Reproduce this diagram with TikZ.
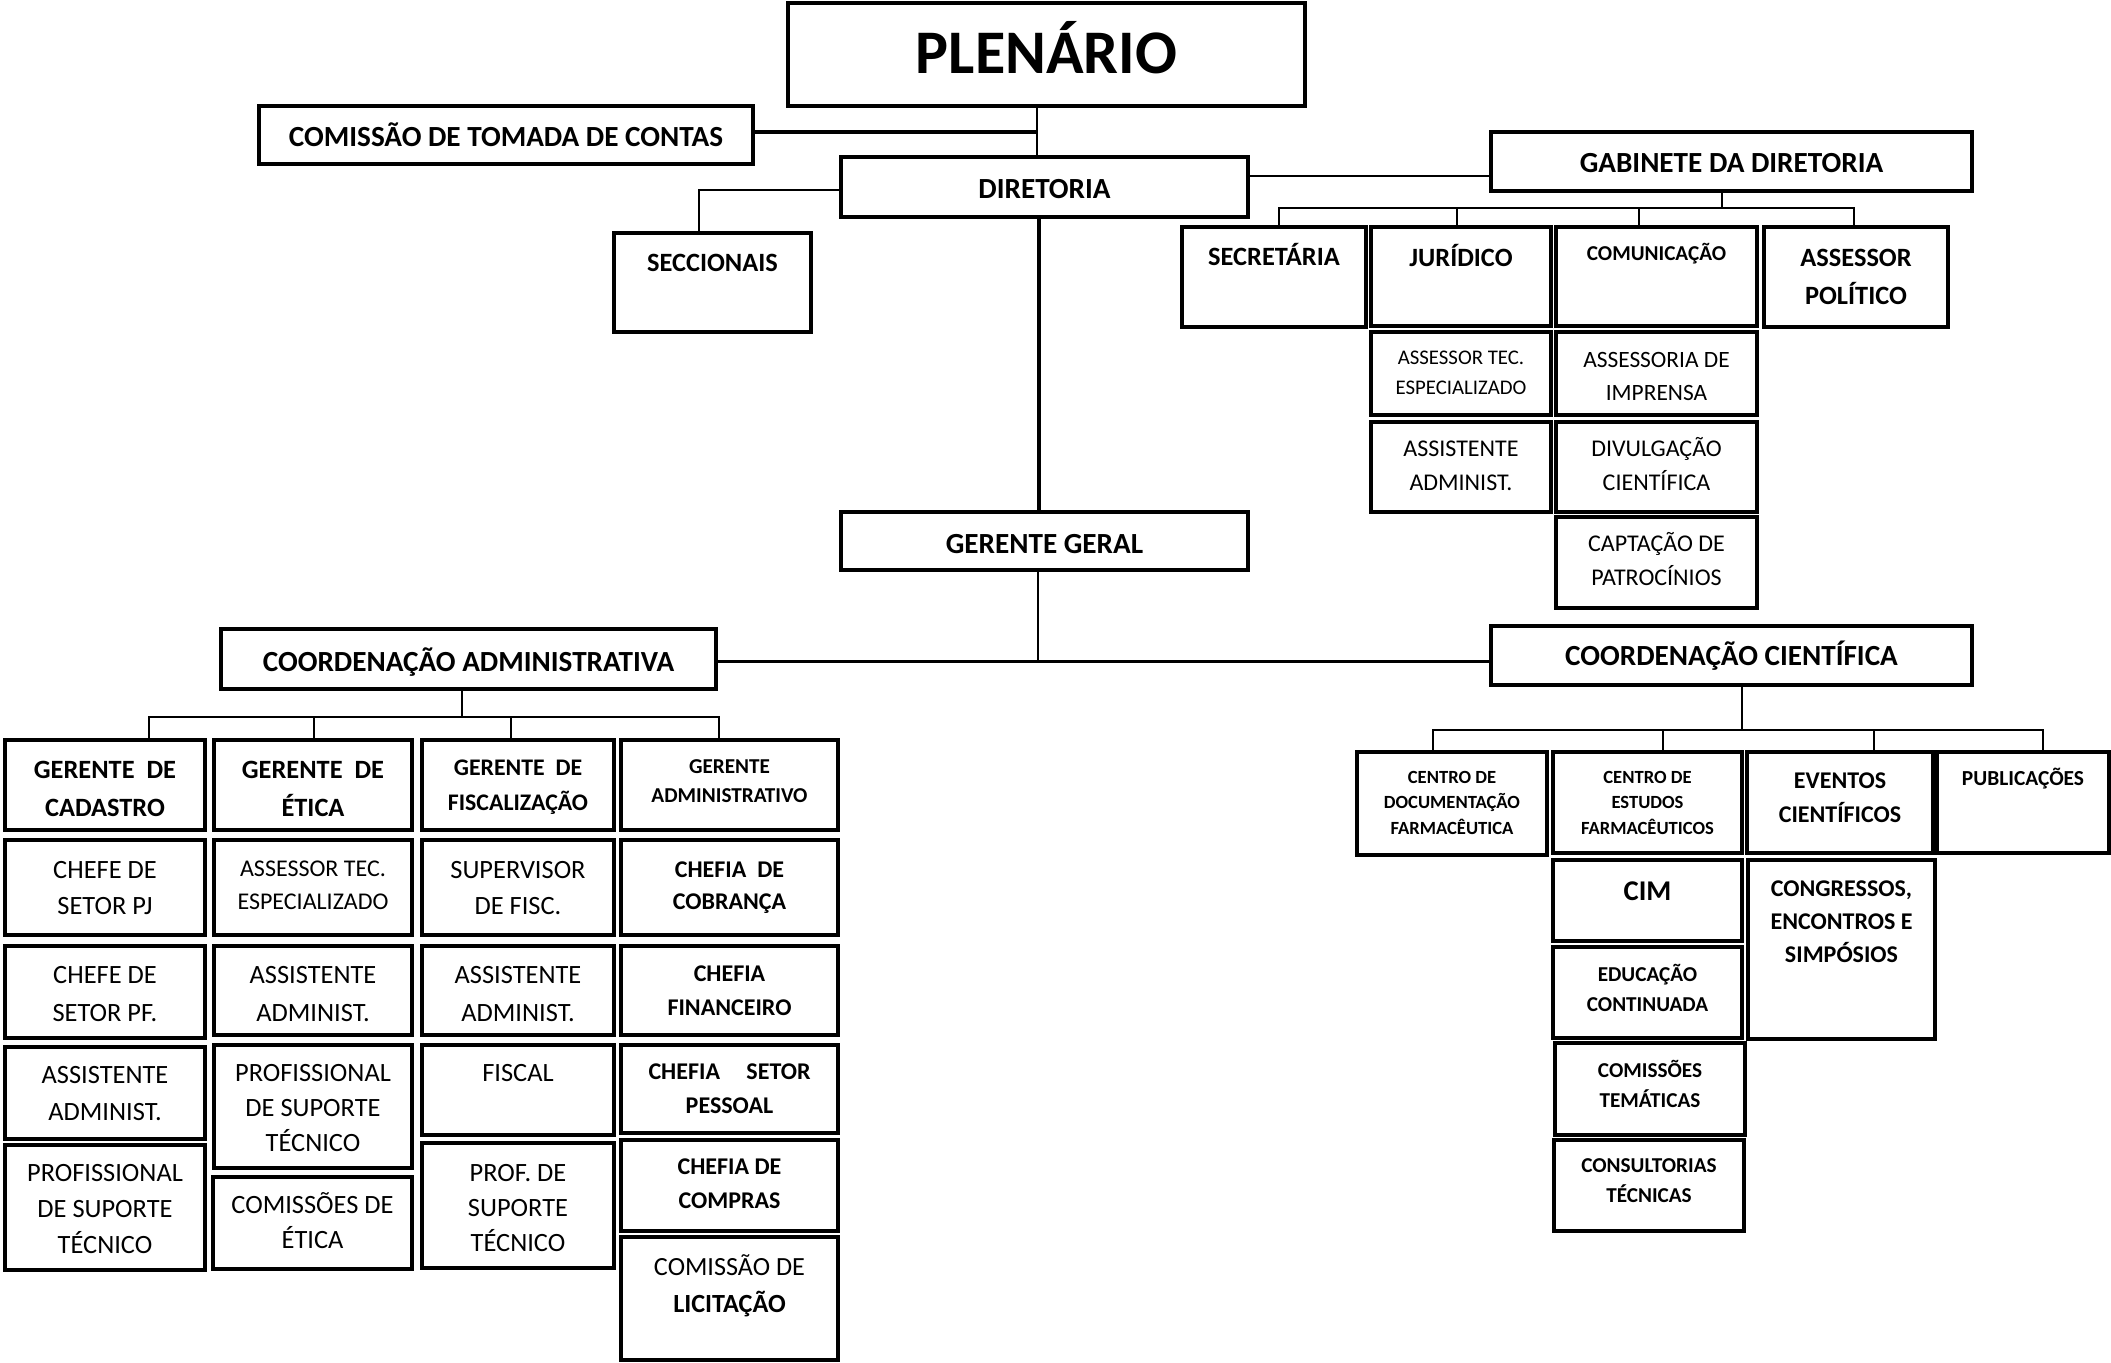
\documentclass[tikz,border=0pt]{standalone}
\usepackage{fontspec}
\setmainfont{Carlito}
\usetikzlibrary{calc}
\tikzset{
  box/.style={draw, line width=1.7pt, inner sep=0pt, fill=white},
  ln/.style={line width=1pt},
  lnb/.style={line width=1.2pt},
  lnt/.style={line width=1.8pt},
}
\newcommand{\bx}[5]{\node[box,minimum width={(#4-#2)*0.5pt},minimum height={(#5-#3)*0.5pt}] (#1) at ({(#2+#4)/2},{(#3+#5)/2}) {};}
\newcommand{\tx}[6]{\path let \p1=(#1.north) in node[anchor=north,inner sep=0pt,align=center,font={\fontsize{#3}{#4}\selectfont#5}] (#1-t) at (\x1,{-0.5pt*(#2-1.368*#3)}) {\rule{0pt}{1em}#6};}
\begin{document}
\begin{tikzpicture}[x=0.5pt,y=-0.5pt]
\fill[white] (0,0) rectangle (2111,1362);
\useasboundingbox (0,0) rectangle (2111,1362);

% top part
\bx{plen}{788}{3}{1305}{106}
\bx{ctc}{259}{106}{753}{164}
\bx{dir}{841}{157}{1248}{217}
\bx{sec}{614}{233}{811}{332}
\bx{gab}{1491}{132}{1972}{191}
\bx{secr}{1182}{227}{1366}{327}
\bx{jur}{1371}{227}{1551}{326}
\bx{com}{1556}{227}{1757}{326}
\bx{apol}{1764}{227}{1948}{327}
\bx{jat}{1371}{332}{1551}{415}
\bx{cai}{1556}{332}{1757}{415}
\bx{jaa}{1371}{422}{1551}{512}
\bx{cdc}{1556}{422}{1757}{512}
\bx{ccp}{1556}{517}{1757}{608}
\bx{gg}{841}{512}{1248}{570}
\bx{ca}{221}{629}{716}{689}
\bx{cc}{1491}{626}{1972}{685}

% left columns
\bx{a1}{5}{740}{205}{830}
\bx{b1}{214}{740}{412}{830}
\bx{c1}{422}{740}{614}{830}
\bx{d1}{621}{740}{838}{830}
\bx{a2}{5}{840}{205}{935}
\bx{b2}{214}{840}{412}{935}
\bx{c2}{422}{840}{614}{935}
\bx{d2}{621}{840}{838}{935}
\bx{a3}{5}{946}{205}{1038}
\bx{b3}{214}{946}{412}{1035}
\bx{c3}{422}{946}{614}{1035}
\bx{d3}{621}{946}{838}{1035}
\bx{a4}{5}{1047}{205}{1139}
\bx{a5}{5}{1145}{205}{1270}
\bx{b4}{214}{1045}{412}{1168}
\bx{b5}{213}{1177}{412}{1269}
\bx{c4}{422}{1045}{614}{1135}
\bx{c5}{422}{1143}{614}{1268}
\bx{d4}{621}{1045}{838}{1133}
\bx{d5}{621}{1140}{838}{1231}
\bx{d6}{621}{1237}{838}{1360}

% right columns
\bx{cdoc}{1357}{752}{1547}{855}
\bx{cest}{1553}{752}{1742}{853}
\bx{eve}{1747}{752}{1933}{853}
\bx{pub}{1937}{752}{2109}{853}
\bx{cim}{1553}{860}{1742}{941}
\bx{cong}{1748}{860}{1935}{1039}
\bx{edu}{1553}{947}{1742}{1038}
\bx{ctem}{1555}{1043}{1745}{1135}
\bx{ccons}{1554}{1140}{1744}{1231}

% texts
\tx{plen}{53.5}{31}{37}{\bfseries}{PLENÁRIO}
\tx{ctc}{137}{14.6}{18}{\bfseries}{COMISSÃO DE TOMADA DE CONTAS}
\tx{dir}{188.5}{14.6}{18}{\bfseries}{DIRETORIA}
\tx{sec}{263}{13.2}{18}{\bfseries}{SECCIONAIS}
\tx{gab}{162.5}{14.6}{18}{\bfseries}{GABINETE DA DIRETORIA}
\tx{secr}{257}{13.2}{18}{\bfseries}{SECRETÁRIA}
\tx{jur}{258}{13.2}{18}{\bfseries}{JURÍDICO}
\tx{com}{253.7}{10.6}{14}{\bfseries}{COMUNICAÇÃO}
\tx{apol}{258}{13.2}{18.8}{\bfseries}{ASSESSOR\\POLÍTICO}
\tx{jat}{358}{10.4}{14.75}{\mdseries}{ASSESSOR TEC.\\ESPECIALIZADO}
\tx{cai}{359.5}{11.7}{16.75}{\mdseries}{ASSESSORIA DE\\IMPRENSA}
\tx{jaa}{449}{12}{16.75}{\mdseries}{ASSISTENTE\\ADMINIST.}
\tx{cdc}{449}{12}{16.75}{\mdseries}{DIVULGAÇÃO\\CIENTÍFICA}
\tx{ccp}{544}{12}{17}{\mdseries}{CAPTAÇÃO DE\\PATROCÍNIOS}
\tx{gg}{543.5}{14.6}{18}{\bfseries}{GERENTE GERAL}
\tx{ca}{662}{14.6}{18}{\bfseries}{COORDENAÇÃO ADMINISTRATIVA}
\tx{cc}{656}{14.6}{18}{\bfseries}{COORDENAÇÃO CIENTÍFICA}

\tx{a1}{770}{13.2}{18.75}{\bfseries}{GERENTE\ \ DE\\CADASTRO}
\tx{b1}{770}{13.2}{18.75}{\bfseries}{GERENTE\ \ DE\\ÉTICA}
\tx{c1}{767.5}{11.9}{17.5}{\bfseries}{GERENTE\ \ DE\\FISCALIZAÇÃO}
\tx{d1}{766.7}{10.6}{14.15}{\bfseries}{GERENTE\\ADMINISTRATIVO}
\tx{a2}{870}{13.2}{18}{\mdseries}{CHEFE DE\\SETOR PJ}
\tx{b2}{868}{12}{16.8}{\mdseries}{ASSESSOR TEC.\\ESPECIALIZADO}
\tx{c2}{870}{13.2}{18}{\mdseries}{SUPERVISOR\\DE FISC.}
\tx{d2}{869}{12}{16}{\bfseries}{CHEFIA\ \ DE\\COBRANÇA}
\tx{a3}{974.5}{13.2}{19}{\mdseries}{CHEFE DE\\SETOR PF.}
\tx{b3}{975}{13.2}{19}{\mdseries}{ASSISTENTE\\ADMINIST.}
\tx{c3}{975}{13.2}{19}{\mdseries}{ASSISTENTE\\ADMINIST.}
\tx{d3}{973.5}{12}{17}{\bfseries}{CHEFIA\\FINANCEIRO}
\tx{a4}{1075}{13.2}{18.35}{\mdseries}{ASSISTENTE\\ADMINIST.}
\tx{a5}{1173}{13.2}{18}{\mdseries}{PROFISSIONAL\\DE SUPORTE\\TÉCNICO}
\tx{b4}{1073}{13.2}{17.5}{\mdseries}{PROFISSIONAL\\DE SUPORTE\\TÉCNICO}
\tx{b5}{1205}{13.2}{17.5}{\mdseries}{COMISSÕES DE\\ÉTICA}
\tx{c4}{1073}{13.2}{17.5}{\mdseries}{FISCAL}
\tx{c5}{1172.5}{13.2}{17.65}{\mdseries}{PROF. DE\\SUPORTE\\TÉCNICO}
\tx{d4}{1071.7}{12}{17}{\bfseries}{CHEFIA\hspace{1.1em}SETOR\\PESSOAL}
\tx{d5}{1166.5}{12}{17.15}{\bfseries}{CHEFIA DE\\COMPRAS}
\tx{d6}{1266.7}{13.1}{18.5}{\mdseries}{COMISSÃO DE\\\textbf{LICITAÇÃO}}

\tx{cdoc}{777}{9.3}{12.85}{\bfseries}{CENTRO DE\\DOCUMENTAÇÃO\\FARMACÊUTICA}
\tx{cest}{777}{9.3}{12.85}{\bfseries}{CENTRO DE\\ESTUDOS\\FARMACÊUTICOS}
\tx{eve}{780}{12}{17}{\bfseries}{EVENTOS\\CIENTÍFICOS}
\tx{pub}{778}{10.7}{14}{\bfseries}{PUBLICAÇÕES}
\tx{cim}{891}{14.3}{18}{\bfseries}{CIM}
\tx{cong}{888}{12}{16.5}{\bfseries}{CONGRESSOS,\\ENCONTROS E\\SIMPÓSIOS}
\tx{edu}{974}{10.6}{15}{\bfseries}{EDUCAÇÃO\\CONTINUADA}
\tx{ctem}{1070}{10.6}{15}{\bfseries}{COMISSÕES\\TEMÁTICAS}
\tx{ccons}{1165.7}{10.6}{15}{\bfseries}{CONSULTORIAS\\TÉCNICAS}

% junction coordinates
\coordinate (v1) at (1037,132);
\coordinate (s1) at (699,190);
\coordinate (hg) at (1300,176);
\coordinate (gbm) at (1722,208);
\coordinate (gb1) at (1279,208);
\coordinate (gb2) at (1457,208);
\coordinate (gb3) at (1639,208);
\coordinate (gb4) at (1854,208);
\coordinate (v2) at (1039,300);
\coordinate (hb) at (1037.5,661.5);
\coordinate (ab) at (462,716.5);
\coordinate (ab1) at (149,716.5);
\coordinate (ab2) at (314.4,716.5);
\coordinate (ab3) at (510.7,716.5);
\coordinate (ab4) at (718.8,716.5);
\coordinate (cb) at (1741.7,730);
\coordinate (cb1) at (1433.4,730);
\coordinate (cb2) at (1663,730);
\coordinate (cb3) at (1873.5,730);
\coordinate (cb4) at (2043,730);

% connectors
\draw[lnb] (plen.south -| v1) -- (dir.north -| v1);
\draw[lnt] (ctc.east |- v1) -- (v1);
\draw[ln] (dir.west |- s1) -| (sec.north -| s1);
\draw[lnb] (dir.east |- hg) -- (gab.west |- hg);
\draw[ln] (gab.south -| gbm) -- (gbm);
\draw[ln] (secr.north -| gb1) -- (gb1) -- (gb4) -- (apol.north -| gb4);
\draw[ln] (gb2) -- (jur.north -| gb2);
\draw[ln] (gb3) -- (com.north -| gb3);
\draw[lnt] (dir.south -| v2) -- (gg.north -| v2);
\draw[ln] (gg.south -| hb) -- (hb);
\draw[lnb] (ca.east |- hb) -- (cc.west |- hb);
\draw[ln] (ca.south -| ab) -- (ab);
\draw[ln] (a1.north -| ab1) -- (ab1) -- (ab4) -- (d1.north -| ab4);
\draw[ln] (ab2) -- (b1.north -| ab2);
\draw[ln] (ab3) -- (c1.north -| ab3);
\draw[ln] (cc.south -| cb) -- (cb);
\draw[ln] (cdoc.north -| cb1) -- (cb1) -- (cb4) -- (pub.north -| cb4);
\draw[ln] (cb2) -- (cest.north -| cb2);
\draw[ln] (cb3) -- (eve.north -| cb3);
\end{tikzpicture}
\end{document}
